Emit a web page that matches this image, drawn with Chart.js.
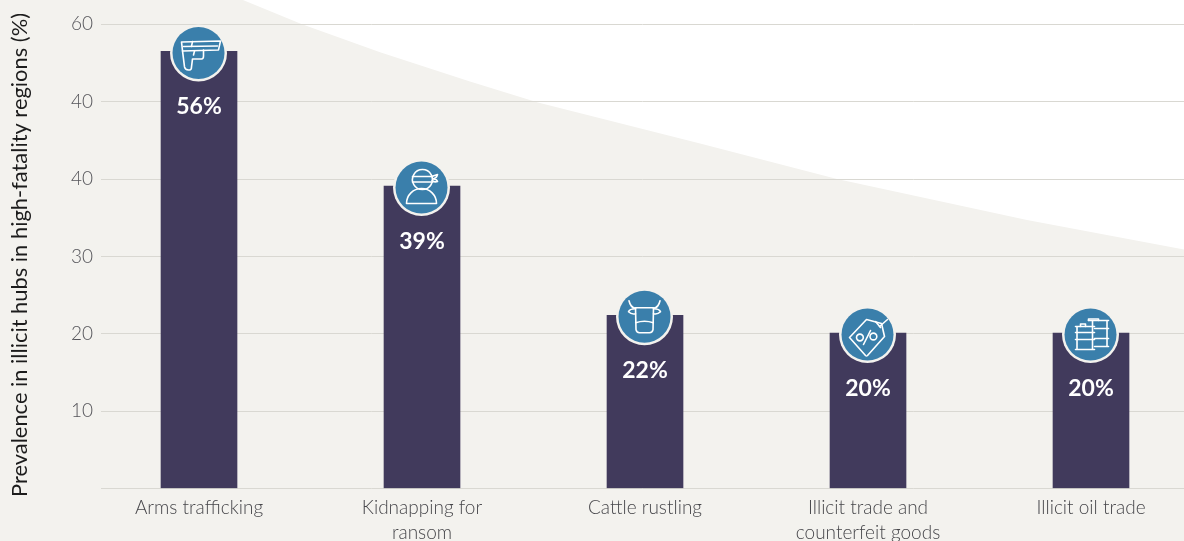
<!DOCTYPE html>
<html>
<head>
<meta charset="utf-8">
<style>
  html, body { margin: 0; padding: 0; background: #f3f2ee; overflow: hidden; }
  #wrap { width: 1184px; height: 541px; }
</style>
<script src="https://cdn.jsdelivr.net/npm/chart.js@4"></script>
</head>
<body>
<div id="wrap"><canvas id="grafico" width="1184" height="541"></canvas></div>
<script>
const categorias = [['Arms trafficking'], ['Kidnapping for', 'ransom'], ['Cattle rustling'], ['Illicit trade and', 'counterfeit goods'], ['Illicit oil trade']];
const valores = [56.5, 39.1, 22.4, 20.1, 20.1];
const rotulos = ['56%', '39%', '22%', '20%', '20%'];
// the fifth gridline really is labelled 40 in the source picture
const yTicks = ['', '10', '20', '30', '40', '40', '60'];
const icones = ['arma', 'bandido', 'vaca', 'etiqueta', 'barris'];

// edge of the pale background shape, in axis units
const curvaX = [0.197, 0.462, 0.812, 1.215, 1.52, 2.247, 2.861, 3.713, 4.417];
const curvaY = [63.15, 60, 56.4, 52.6, 49.9, 44.6, 40, 34.7, 30.9];

const corFundo = '#f3f2ee';
const corBarra = '#413a5c';
const corCirculo = '#3a7fab';
const corGrade = '#d9d8d2';
const fonte = 'Lato, sans-serif';

// icon outlines around the circle centre
const desenhos = {
  arma: ['M-17 -11 L22 -12 L20 -3 L-16 -2 Z', 'M-6 -11.5 L-7 -6.5', 'M-15 -6.5 L19 -7', 'M-16 -2 L-14 14 Q-13.5 17 -10 17 L-9 17 Q-7 17 -7 14 L-6 6 L3 6 Q5 6 5 3 L5 -3', 'M-4 -2 L-5 2'],
  bandido: ['M1 -18 A10 10 0 1 1 0.9 -18 Z', 'M-9 -11 L11 -11', 'M-9 -5.5 L11 -5.5', 'M10 -11 L16 -13 Q15 -9 11 -8.5 Q15 -9 16 -6 Q13 -5 10.5 -7', 'M-15 16 L15 16 A15 15 0 0 0 -15 16 Z'],
  vaca: ['M-9 -9 L9 -9 L8.5 13 Q8 16 5 16 L-5 16 Q-8 16 -8.5 13 Z', 'M-8.8 6 Q0 3 8.8 6', 'M-15.5 -16 Q-14 -9 -9 -8.5', 'M15.5 -16 Q14 -9 9 -8.5', 'M-9 -8 Q-15 -8 -16 -5 Q-13 -2 -9 -3', 'M9 -8 Q15 -8 16 -5 Q13 -2 9 -3'],
  etiqueta: ['M-18 3 L-1 -15 L14 -11 L17 2 L0 21 Q-1 22 -2 21 Z', 'M12 -8 L20 -15', 'M8 -13 L13 -7', 'M-11 3 a3.4 3.4 0 1 0 6.8 0 a3.4 3.4 0 1 0 -6.8 0', 'M2.5 2 a3.4 3.4 0 1 0 6.8 0 a3.4 3.4 0 1 0 -6.8 0', 'M3 -4 L-4 10'],
  barris: ['M-15 -8 L4 -8 M-13.5 -8 L-13.5 15 M2 -8 L2 15 M-15 15 L4 15 M-15 -2 L4 -2 M-15 5 L4 5', 'M-10 -8 L-10 -10.5 L-5 -10.5 L-5 -8', 'M-2 -14 L18 -14 M16.5 -14 L16.5 12 M4 -6 L18 -6 M4 4 L18 4 M4 12 L18 12 M2 -14 L2 -8', 'M-2 -14 L-2 -15.5 L8 -15.5 L8 -14'],
};

const fundoPlugin = {
  id: 'fundo',
  beforeDraw(chart) {
    const { ctx, scales, width, height } = chart;
    ctx.save();
    ctx.fillStyle = corFundo;
    ctx.fillRect(0, 0, width, height);
    ctx.beginPath();
    curvaX.forEach((v, i) => {
      const px = scales.x.getPixelForValue(v);
      const py = scales.y.getPixelForValue(curvaY[i]);
      if (i === 0) ctx.moveTo(px, py); else ctx.lineTo(px, py);
    });
    ctx.lineTo(width, 0);
    ctx.closePath();
    ctx.fillStyle = '#ffffff';
    ctx.fill();
    ctx.restore();
  }
};

const marcasPlugin = {
  id: 'marcas',
  afterDatasetsDraw(chart) {
    const { ctx } = chart;
    const barras = chart.getDatasetMeta(0).data;
    ctx.save();
    barras.forEach((b, i) => {
      // percentage inside the bar
      ctx.fillStyle = '#ffffff';
      ctx.font = '700 23px ' + fonte;
      ctx.textAlign = 'center';
      ctx.textBaseline = 'middle';
      ctx.fillText(rotulos[i], b.x, b.y + 55.5);

      // round badge sitting on the top of the bar
      const cx = b.x - 0.5, cy = b.y + 1.5;
      ctx.beginPath();
      ctx.arc(cx, cy, 28.5, 0, Math.PI * 2);
      ctx.fillStyle = corFundo;
      ctx.fill();
      ctx.beginPath();
      ctx.arc(cx, cy, 26, 0, Math.PI * 2);
      ctx.fillStyle = corCirculo;
      ctx.fill();

      ctx.save();
      ctx.translate(cx, cy);
      ctx.strokeStyle = '#ffffff';
      ctx.lineWidth = 1.6;
      ctx.lineJoin = 'round';
      ctx.lineCap = 'round';
      desenhos[icones[i]].forEach(d => ctx.stroke(new Path2D(d)));
      ctx.restore();
    });

    // y title, centred lower than the plot area
    ctx.translate(19.5, 255);
    ctx.rotate(-Math.PI / 2);
    ctx.fillStyle = '#1c1c1c';
    ctx.font = '400 21.9px ' + fonte;
    ctx.textAlign = 'center';
    ctx.textBaseline = 'middle';
    ctx.fillText('Prevalence in illicit hubs in high-fatality regions (%)', 0, 0);
    ctx.restore();
  }
};

new Chart(document.getElementById('grafico'), {
  type: 'bar',
  data: {
    datasets: [{
      data: valores.map((v, i) => ({ x: i, y: v })),
      backgroundColor: corBarra,
      barThickness: 76
    }]
  },
  options: {
    responsive: false,
    animation: false,
    layout: { padding: 0 },
    plugins: { legend: { display: false }, tooltip: { enabled: false } },
    scales: {
      x: {
        type: 'linear',
        bounds: 'data',
        offset: false,
        min: -0.4395,
        max: 4.417,
        afterBuildTicks(scale) {
          scale.ticks = categorias.map((c, i) => ({ value: i }));
        },
        afterFit(scale) {
          scale.height = 52.5;
          scale.paddingLeft = 0;
          scale.paddingRight = 0;
        },
        grid: { display: false },
        border: { display: false },
        ticks: {
          autoSkip: false,
          maxRotation: 0,
          padding: -1,
          color: '#46464a',
          font: { family: fonte, size: 19, weight: '300', lineHeight: 1.32 },
          callback: v => categorias[v]
        }
      },
      y: {
        bounds: 'data',
        min: 0,
        max: 63.15,
        afterBuildTicks(scale) {
          scale.ticks = yTicks.map((t, i) => ({ value: i * 10 }));
        },
        afterFit(scale) {
          scale.width = 101;
          scale.paddingTop = 0;
          scale.paddingBottom = 0;
        },
        grid: { color: corGrade, lineWidth: 1, drawTicks: false },
        border: { display: false },
        ticks: {
          padding: 8,
          color: '#55555a',
          font: { family: fonte, size: 19, weight: '300' },
          callback: v => yTicks[v / 10]
        }
      }
    }
  },
  plugins: [fundoPlugin, marcasPlugin]
});
</script>
</body>
</html>
